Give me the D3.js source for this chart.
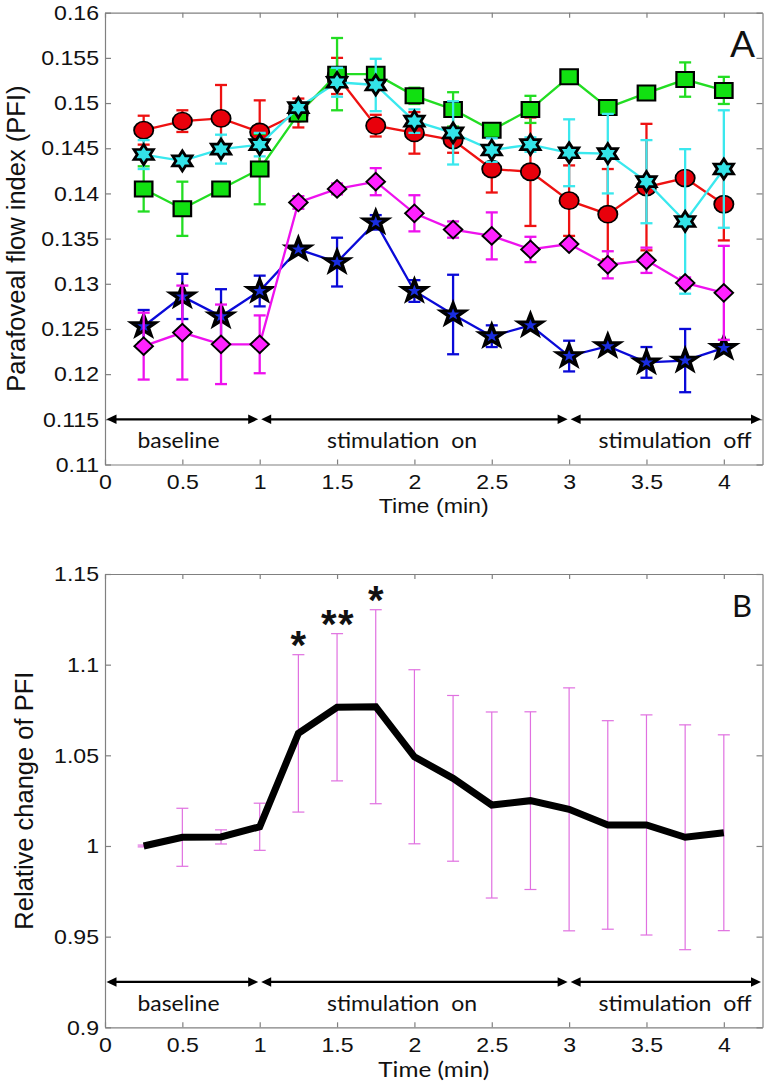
<!DOCTYPE html>
<html>
<head>
<meta charset="utf-8">
<script src="https://cdn.jsdelivr.net/npm/d3@7"></script>
<style>
  body { margin: 0; background: #fff; }
  svg { display: block; }
</style>
</head>
<body>
<svg id="chart" width="769" height="1087"></svg>
<script>
// time points in minutes
const time = [0.25, 0.5, 0.75, 1, 1.25, 1.5, 1.75, 2, 2.25, 2.5, 2.75, 3, 3.25, 3.5, 3.75, 4];

// panel A: parafoveal flow index per subject (mean and error)
const blueVals = [0.1253, 0.1286, 0.1264, 0.1292, 0.1338, 0.1324, 0.1368, 0.1292, 0.1266, 0.1242, 0.1254, 0.1220, 0.1231, 0.1213, 0.1215, 0.1229];
const blueErr  = [0.0018, 0.0025, 0.0030, 0.0017, 0.0003, 0.0027, 0.0008, 0.0012, 0.0044, 0.0012, 0.0003, 0.0017, 0.0003, 0.0017, 0.0035, 0.0003];
const redVals  = [0.1470, 0.1480, 0.1483, 0.1468, 0.1489, 0.1530, 0.1475, 0.1467, 0.1459, 0.1427, 0.1424, 0.1392, 0.1377, 0.1407, 0.1417, 0.1388];
const redErr   = [0.0016, 0.0012, 0.0037, 0.0035, 0.0016, 0.0020, 0.0012, 0.0023, 0.0014, 0.0026, 0.0060, 0.0039, 0.0050, 0.0070, 0.0005, 0.0040];
const greenVals = [0.1405, 0.1383, 0.1405, 0.1427, 0.1488, 0.1532, 0.1532, 0.1508, 0.1493, 0.1470, 0.1493, 0.1529, 0.1495, 0.1511, 0.1526, 0.1514];
const greenErr  = [0.0025, 0.0030, 0.0005, 0.0039, 0.0008, 0.0040, 0.0005, 0.0009, 0.0019, 0.0003, 0.0015, 0.0002, 0.0003, 0.0003, 0.0019, 0.0015];
const cyanVals = [0.1443, 0.1436, 0.1449, 0.1454, 0.1495, 0.1523, 0.1520, 0.1480, 0.1467, 0.1448, 0.1454, 0.1445, 0.1444, 0.1413, 0.1369, 0.1427];
const cyanErr  = [0.0016, 0.0004, 0.0016, 0.0013, 0.0004, 0.0016, 0.0029, 0.0013, 0.0035, 0.0013, 0.0008, 0.0037, 0.0044, 0.0046, 0.0080, 0.0065];
const magentaVals = [0.1231, 0.1246, 0.1233, 0.1233, 0.1390, 0.1405, 0.1413, 0.1378, 0.1360, 0.1353, 0.1338, 0.1344, 0.1321, 0.1326, 0.1301, 0.1290];
const magentaErr  = [0.0037, 0.0052, 0.0044, 0.0032, 0.0007, 0.0006, 0.0015, 0.0020, 0.0009, 0.0026, 0.0014, 0.0004, 0.0015, 0.0014, 0.0006, 0.0052];

// panel B: relative change of PFI (mean and error)
const relMean = [1.000, 1.0048, 1.005, 1.0106, 1.0621, 1.0765, 1.0768, 1.0492, 1.0373, 1.0226, 1.025, 1.0202, 1.0116, 1.0116, 1.0048, 1.0073];
const relErr  = [0.0005, 0.016, 0.0039, 0.013, 0.0434, 0.0406, 0.0535, 0.048, 0.0457, 0.0513, 0.049, 0.067, 0.0575, 0.0607, 0.062, 0.054];

// significance marks
const sigTimes  = [1.25, 1.5, 1.75];
const sigLabels = ['*', '**', '*'];

// phases of the experiment
const phaseBounds = [0, 1, 3, 4.25];
const phaseLabels = ['baseline', 'stimulation  on', 'stimulation  off'];

// ticks
const xTicks = [0, 0.5, 1, 1.5, 2, 2.5, 3, 3.5, 4];
const xTickLabels = ['0', '0.5', '1', '1.5', '2', '2.5', '3', '3.5', '4'];
const yTicksA = [0.11, 0.115, 0.12, 0.125, 0.13, 0.135, 0.14, 0.145, 0.15, 0.155, 0.16];
const yTickLabelsA = ['0.11', '0.115', '0.12', '0.125', '0.13', '0.135', '0.14', '0.145', '0.15', '0.155', '0.16'];
const yTicksB = [0.9, 0.95, 1, 1.05, 1.1, 1.15];
const yTickLabelsB = ['0.9', '0.95', '1', '1.05', '1.1', '1.15'];

const svg = d3.select('#chart');
const axisGrey = '#808080';
const arial = "'Liberation Sans', Arial, sans-serif";
const calibri = "Lato, 'Open Sans', sans-serif";

svg.append('rect').attr('width', 769).attr('height', 1087).attr('fill', '#fff');

//stretch text a bit wider like the matlab export
function stretch(sel, k) {
  sel.each(function() {
    const w = this.getComputedTextLength();
    d3.select(this).attr('textLength', w * k).attr('lengthAdjust', 'spacingAndGlyphs');
  });
}

const x = d3.scaleLinear().domain([0, 4.25]).range([105, 762.5]);
const yA = d3.scaleLinear().domain([0.11, 0.16]).range([464.5, 12.7]);
const yB = d3.scaleLinear().domain([0.9, 1.15]).range([1027.3, 574]);

function drawFrame(y, yTicks, yLabels) {
  const [y0, y1] = y.range();
  const fmtX = d => xTickLabels[xTicks.indexOf(d)];
  const fmtY = d => yLabels[yTicks.indexOf(d)];
  const g = svg.append('g');

  const bottom = g.append('g').attr('transform', `translate(0,${y0})`)
    .call(d3.axisBottom(x).tickValues(xTicks).tickFormat(fmtX).tickSizeInner(-5).tickSizeOuter(0).tickPadding(10));
  g.append('g').attr('transform', `translate(0,${y1})`)
    .call(d3.axisTop(x).tickValues(xTicks).tickFormat('').tickSizeInner(-5).tickSizeOuter(0));
  const left = g.append('g').attr('transform', `translate(${x.range()[0]},0)`)
    .call(d3.axisLeft(y).tickValues(yTicks).tickFormat(fmtY).tickSizeInner(-6).tickSizeOuter(0).tickPadding(6));
  g.append('g').attr('transform', `translate(${x.range()[1]},0)`)
    .call(d3.axisRight(y).tickValues(yTicks).tickFormat('').tickSizeInner(-6).tickSizeOuter(0));

  g.selectAll('.domain').attr('stroke', axisGrey).attr('stroke-width', 1.2);
  g.selectAll('.tick line').attr('stroke', axisGrey).attr('stroke-width', 1.2);
  g.selectAll('.tick text').attr('fill', '#111').style('font-family', arial).style('font-size', '21px');
  stretch(bottom.selectAll('.tick text'), 1.1);
  stretch(left.selectAll('.tick text'), 1.1);
}

//double headed arrows with the phase names underneath
function drawPhases(y, arrowVal) {
  const ay = y(arrowVal);
  const g = svg.append('g');
  const labelX = [0.21, 1.435, 3.19];
  const labelW = [82, 150, 153];
  const head = 10, half = 4.8;
  for (let i = 0; i < phaseBounds.length - 1; i++) {
    const a = x(phaseBounds[i]) + 1.5, b = x(phaseBounds[i + 1]) - 1.5;
    g.append('line').attr('x1', a + 4).attr('x2', b - 4).attr('y1', ay).attr('y2', ay)
      .attr('stroke', '#000').attr('stroke-width', 2.2);
    g.append('path').attr('d', `M${a},${ay}L${a + head},${ay - half}L${a + head},${ay + half}Z`).attr('fill', '#000');
    g.append('path').attr('d', `M${b},${ay}L${b - head},${ay - half}L${b - head},${ay + half}Z`).attr('fill', '#000');
    g.append('text').attr('x', x(labelX[i])).attr('y', ay + 29)
      .style('font-family', calibri).style('font-size', '21px').attr('fill', '#111')
      .attr('textLength', labelW[i]).attr('lengthAdjust', 'spacingAndGlyphs')
      .style('white-space', 'pre')
      .text(phaseLabels[i]);
  }
}

function starPath(n, R, r) {
  const pts = [];
  for (let i = 0; i < 2 * n; i++) {
    const a = -Math.PI / 2 + i * Math.PI / n;
    const rad = i % 2 ? r : R;
    pts.push([rad * Math.cos(a), rad * Math.sin(a)]);
  }
  return 'M' + pts.map(p => p[0].toFixed(2) + ',' + p[1].toFixed(2)).join('L') + 'Z';
}

const circlePath = d3.path();
circlePath.arc(0, 0, 8.6, 0, 2 * Math.PI);

const shapes = {
  circle: circlePath.toString(),
  square: 'M-7.8,-7.5H7.8V7.5H-7.8Z',
  diamond: 'M0,-8.8L8.3,0L0,8.8L-8.3,0Z',
  hexagram: starPath(6, 10, 10 / Math.sqrt(3)),
  pentagram: starPath(5, 11, 4.4)
};

// ---------- panel A ----------
drawFrame(yA, yTicksA, yTickLabelsA);
drawPhases(yA, 0.115);

const seriesA = [
  { vals: blueVals, err: blueErr, line: '#0a0ad8', fill: '#1a2ee0', shape: 'pentagram', sw: 3.2 },
  { vals: redVals, err: redErr, line: '#ee1111', fill: '#e8000b', shape: 'circle', sw: 1.6 },
  { vals: greenVals, err: greenErr, line: '#22dd22', fill: '#11e011', shape: 'square', sw: 2 },
  { vals: cyanVals, err: cyanErr, line: '#3ae8ee', fill: '#33e3e8', shape: 'hexagram', sw: 2.6 },
  { vals: magentaVals, err: magentaErr, line: '#ee11ee', fill: '#ff22ff', shape: 'diamond', sw: 1.8 }
];

const lineA = d3.line().x((d, i) => x(time[i])).y(d => yA(d));
const cap = 6;

seriesA.forEach(s => {
  const g = svg.append('g');
  g.append('path').datum(s.vals).attr('d', lineA)
    .attr('fill', 'none').attr('stroke', s.line).attr('stroke-width', 2.3);

  const bars = g.selectAll('.bar').data(s.vals).enter().append('g');
  bars.append('line')
    .attr('x1', (d, i) => x(time[i])).attr('x2', (d, i) => x(time[i]))
    .attr('y1', (d, i) => yA(d - s.err[i])).attr('y2', (d, i) => yA(d + s.err[i]));
  bars.append('line')
    .attr('x1', (d, i) => x(time[i]) - cap).attr('x2', (d, i) => x(time[i]) + cap)
    .attr('y1', (d, i) => yA(d - s.err[i])).attr('y2', (d, i) => yA(d - s.err[i]));
  bars.append('line')
    .attr('x1', (d, i) => x(time[i]) - cap).attr('x2', (d, i) => x(time[i]) + cap)
    .attr('y1', (d, i) => yA(d + s.err[i])).attr('y2', (d, i) => yA(d + s.err[i]));
  bars.selectAll('line').attr('stroke', s.line).attr('stroke-width', 2.3);

  g.selectAll('.marker').data(s.vals).enter().append('path')
    .attr('d', shapes[s.shape])
    .attr('transform', (d, i) => `translate(${x(time[i])},${yA(d)}) scale(1.12,1)`)
    .attr('fill', s.fill).attr('stroke', '#000').attr('stroke-width', s.sw)
    .attr('stroke-linejoin', 'miter');
});

svg.append('text').attr('x', x(2.125)).attr('y', 513).attr('text-anchor', 'middle')
  .style('font-family', arial).style('font-size', '20px').attr('fill', '#111')
  .attr('textLength', 110).attr('lengthAdjust', 'spacingAndGlyphs')
  .text('Time (min)');

svg.append('text').attr('transform', `translate(25,${(yA.range()[0] + yA.range()[1]) / 2}) rotate(-90)`)
  .attr('text-anchor', 'middle')
  .style('font-family', arial).style('font-size', '25.5px').attr('fill', '#111')
  .text('Parafoveal flow index (PFI)');

svg.append('text').attr('x', 730).attr('y', 57)
  .style('font-family', calibri).style('font-size', '37px').attr('fill', '#111')
  .text('A');

// ---------- panel B ----------
drawFrame(yB, yTicksB, yTickLabelsB);
drawPhases(yB, 0.925);

const gB = svg.append('g');
const barsB = gB.selectAll('.bar').data(relMean).enter().append('g');
barsB.append('line')
  .attr('x1', (d, i) => x(time[i])).attr('x2', (d, i) => x(time[i]))
  .attr('y1', (d, i) => yB(d - relErr[i])).attr('y2', (d, i) => yB(d + relErr[i]));
barsB.append('line')
  .attr('x1', (d, i) => x(time[i]) - cap).attr('x2', (d, i) => x(time[i]) + cap)
  .attr('y1', (d, i) => yB(d - relErr[i])).attr('y2', (d, i) => yB(d - relErr[i]));
barsB.append('line')
  .attr('x1', (d, i) => x(time[i]) - cap).attr('x2', (d, i) => x(time[i]) + cap)
  .attr('y1', (d, i) => yB(d + relErr[i])).attr('y2', (d, i) => yB(d + relErr[i]));
barsB.selectAll('line').attr('stroke', '#e070e0').attr('stroke-width', 1.2);

gB.append('path').datum(relMean)
  .attr('d', d3.line().x((d, i) => x(time[i])).y(d => yB(d)))
  .attr('fill', 'none').attr('stroke', '#000').attr('stroke-width', 7);

sigTimes.forEach((t, k) => {
  const i = time.indexOf(t);
  const double = sigLabels[k].length > 1;
  svg.append('text')
    .attr('x', x(t) + (double ? 1 : 0)).attr('y', yB(relMean[i] + relErr[i]) + 4)
    .attr('text-anchor', 'middle')
    .style('font-family', arial).style('font-weight', 'bold').style('font-size', '40px')
    .style('letter-spacing', double ? '1.5px' : '0px')
    .attr('fill', '#111')
    .text(sigLabels[k]);
});

svg.append('text').attr('x', x(2.125)).attr('y', 1077).attr('text-anchor', 'middle')
  .style('font-family', calibri).style('font-size', '21px').attr('fill', '#111')
  .attr('textLength', 111).attr('lengthAdjust', 'spacingAndGlyphs')
  .text('Time (min)');

svg.append('text').attr('transform', `translate(33,${(yB.range()[0] + yB.range()[1]) / 2}) rotate(-90)`)
  .attr('text-anchor', 'middle')
  .style('font-family', arial).style('font-size', '25.5px').attr('fill', '#111')
  .text('Relative change of PFI');

svg.append('text').attr('x', 732).attr('y', 617)
  .style('font-family', calibri).style('font-size', '31px').attr('fill', '#111')
  .text('B');
</script>
</body>
</html>
